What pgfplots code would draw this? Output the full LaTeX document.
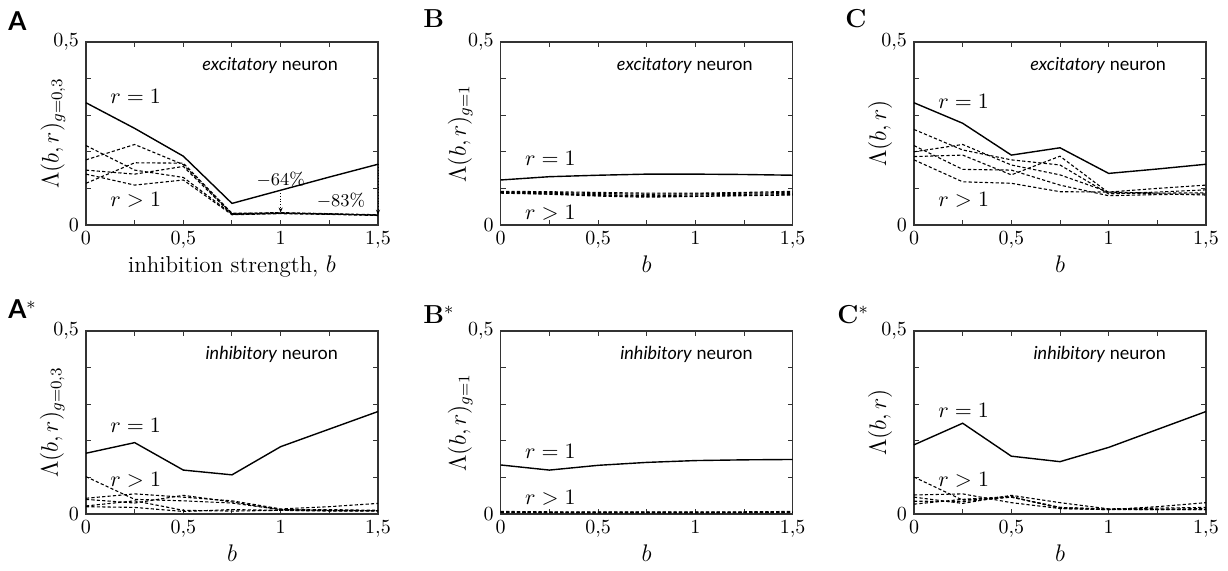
\documentclass[border=0pt]{standalone}
\usepackage{fontspec}
\usepackage{pgfplots}
\pgfplotsset{compat=1.18}
\usetikzlibrary{arrows.meta}
\newfontfamily\sansf{Lato}
\pgfplotsset{
  panel/.style={
    scale only axis, width=146pt, height=91.5pt,
    xmin=0, xmax=1.5, ymin=0, ymax=0.5,
    xtick={0,0.5,1,1.5}, minor xtick={0.25,0.75,1.25},
    ytick={0,0.5}, minor ytick={0.1,0.2,0.3,0.4},
    tick align=inside, tick pos=both,
    xticklabel pos=left, yticklabel pos=left,
    major tick length=2.5pt, minor tick length=2.5pt,
    /pgf/number format/use comma,
    axis line style={line width=0.6pt, black!80},
    tick style={line width=0.5pt, black!80},
    label style={font=\fontsize{11.5}{13}\selectfont},
    xlabel style={at={(axis description cs:0.5,-0.262)}, anchor=base},
    clip=false,
  },
  solidl/.style={black, line width=0.7pt},
  dashl/.style={black, line width=0.55pt, dash pattern=on 1.6pt off 1.1pt},
}
\newcommand{\rlab}[2]{%
  \node[font=\fontsize{10.5}{12}\selectfont] at (axis cs:0.255,#1) {$r=1$};%
  \node[font=\fontsize{10.5}{12}\selectfont] at (axis cs:0.255,#2) {$r>1$};}
\newcommand{\PL}[1]{\bfseries\fontsize{13}{15}\selectfont #1}
\begin{document}
\begin{tikzpicture}
\useasboundingbox (0pt,0pt) rectangle (614pt,285pt);
% panel letters
\node[anchor=base west, inner sep=0] at (4pt,270pt) {\sansf\PL{A}};
\node[anchor=base west, inner sep=0] at (211.5pt,271.5pt) {\PL{B}};
\node[anchor=base west, inner sep=0] at (422.5pt,271.5pt) {\PL{C}};
\node[anchor=base west, inner sep=0] at (4pt,126pt) {\sansf\PL{A$^{*}$}};
\node[anchor=base west, inner sep=0] at (211.5pt,123.5pt) {\PL{B$^{*}$}};
\node[anchor=base west, inner sep=0] at (418.5pt,123.5pt) {\PL{C$^{*}$}};

% ---------- A ----------
\begin{axis}[panel, at={(43pt,172.5pt)}, anchor=south west,
  xlabel={inhibition strength, $b$},
  ylabel={$\Lambda(b,r)_{g=0{,}3}$},
  ylabel style={at={(axis description cs:-0.113,0.5)}, anchor=center}]
\addplot[solidl] coordinates {(0,0.334)(0.25,0.264)(0.5,0.188)(0.75,0.059)(1,0.095)(1.25,0.131)(1.5,0.166)};
\addplot[dashl] coordinates {(0,0.217)(0.25,0.150)(0.5,0.130)(0.75,0.030)(1,0.032)(1.25,0.030)(1.5,0.027)};
\addplot[dashl] coordinates {(0,0.178)(0.25,0.220)(0.5,0.165)(0.75,0.031)(1,0.034)(1.25,0.031)(1.5,0.028)};
\addplot[dashl] coordinates {(0,0.114)(0.25,0.170)(0.5,0.169)(0.75,0.032)(1,0.033)(1.25,0.030)(1.5,0.027)};
\addplot[dashl] coordinates {(0,0.139)(0.25,0.109)(0.5,0.123)(0.75,0.028)(1,0.031)(1.25,0.029)(1.5,0.026)};
\addplot[dashl] coordinates {(0,0.150)(0.25,0.139)(0.5,0.160)(0.75,0.029)(1,0.032)(1.25,0.030)(1.5,0.027)};
\rlab{0.35}{0.068}
\node[anchor=base east, font=\sansf\small] at (axis cs:1.33,0.421) {\textit{excitatory} neuron};
\draw[densely dotted, line width=0.4pt, -{Stealth[length=2.5pt,width=2pt]}] (axis cs:1,0.095) -- (axis cs:1,0.034);
\draw[densely dotted, line width=0.4pt, -{Stealth[length=2.5pt,width=2pt]}] (axis cs:1.5,0.166) -- (axis cs:1.5,0.028);
\node[font=\small] at (axis cs:1.0,0.125) {$-64\%$};
\node[font=\small, anchor=east] at (axis cs:1.47,0.066) {$-83\%$};
\end{axis}

% ---------- B ----------
\begin{axis}[panel, at={(250.35pt,172.5pt)}, anchor=south west,
  xlabel={$b$},
  ylabel={$\Lambda(b,r)_{g=1}$},
  ylabel style={at={(axis description cs:-0.139,0.5)}, anchor=center}]
\addplot[solidl] coordinates {(0,0.123)(0.25,0.132)(0.5,0.136)(0.75,0.139)(1,0.139)(1.25,0.138)(1.5,0.136)};
\addplot[dashl] coordinates {(0,0.092)(0.25,0.091)(0.5,0.089)(0.75,0.087)(1,0.087)(1.25,0.089)(1.5,0.092)};
\addplot[dashl] coordinates {(0,0.090)(0.25,0.089)(0.5,0.086)(0.75,0.084)(1,0.085)(1.25,0.087)(1.5,0.089)};
\addplot[dashl] coordinates {(0,0.089)(0.25,0.087)(0.5,0.083)(0.75,0.080)(1,0.082)(1.25,0.084)(1.5,0.086)};
\addplot[dashl] coordinates {(0,0.088)(0.25,0.085)(0.5,0.081)(0.75,0.078)(1,0.079)(1.25,0.081)(1.5,0.083)};
\addplot[dashl] coordinates {(0,0.087)(0.25,0.084)(0.5,0.079)(0.75,0.076)(1,0.078)(1.25,0.080)(1.5,0.082)};
\rlab{0.183}{0.033}
\node[anchor=base east, font=\sansf\small] at (axis cs:1.33,0.421) {\textit{excitatory} neuron};
\end{axis}

% ---------- C ----------
\begin{axis}[panel, at={(457pt,172.5pt)}, anchor=south west,
  xlabel={$b$},
  ylabel={$\Lambda(b,r)$},
  ylabel style={at={(axis description cs:-0.116,0.5)}, anchor=center}]
\addplot[solidl] coordinates {(0,0.334)(0.25,0.278)(0.5,0.191)(0.75,0.211)(1,0.141)(1.25,0.153)(1.5,0.166)};
\addplot[dashl] coordinates {(0,0.261)(0.25,0.205)(0.5,0.178)(0.75,0.164)(1,0.085)(1.25,0.090)(1.5,0.096)};
\addplot[dashl] coordinates {(0,0.200)(0.25,0.220)(0.5,0.164)(0.75,0.137)(1,0.090)(1.25,0.100)(1.5,0.109)};
\addplot[dashl] coordinates {(0,0.187)(0.25,0.191)(0.5,0.137)(0.75,0.188)(1,0.088)(1.25,0.085)(1.5,0.082)};
\addplot[dashl] coordinates {(0,0.217)(0.25,0.152)(0.5,0.150)(0.75,0.109)(1,0.080)(1.25,0.083)(1.5,0.085)};
\addplot[dashl] coordinates {(0,0.178)(0.25,0.118)(0.5,0.114)(0.75,0.091)(1,0.090)(1.25,0.087)(1.5,0.088)};
\rlab{0.337}{0.068}
\node[anchor=base east, font=\sansf\small] at (axis cs:1.33,0.421) {\textit{excitatory} neuron};
\end{axis}

% ---------- A* ----------
\begin{axis}[panel, at={(43pt,28pt)}, anchor=south west,
  xlabel={$b$},
  ylabel={$\Lambda(b,r)_{g=0{,}3}$},
  ylabel style={at={(axis description cs:-0.116,0.5)}, anchor=center}]
\addplot[solidl] coordinates {(0,0.166)(0.25,0.195)(0.5,0.120)(0.75,0.107)(1,0.184)(1.25,0.232)(1.5,0.280)};
\addplot[dashl] coordinates {(0,0.102)(0.25,0.040)(0.5,0.036)(0.75,0.030)(1,0.012)(1.25,0.012)(1.5,0.010)};
\addplot[dashl] coordinates {(0,0.043)(0.25,0.055)(0.5,0.046)(0.75,0.036)(1,0.014)(1.25,0.020)(1.5,0.029)};
\addplot[dashl] coordinates {(0,0.040)(0.25,0.030)(0.5,0.051)(0.75,0.033)(1,0.012)(1.25,0.010)(1.5,0.009)};
\addplot[dashl] coordinates {(0,0.022)(0.25,0.036)(0.5,0.010)(0.75,0.008)(1,0.010)(1.25,0.008)(1.5,0.008)};
\addplot[dashl] coordinates {(0,0.020)(0.25,0.018)(0.5,0.007)(0.75,0.012)(1,0.010)(1.25,0.009)(1.5,0.009)};
\rlab{0.243}{0.093}
\node[anchor=base east, font=\sansf\small] at (axis cs:1.33,0.421) {\textit{inhibitory} neuron};
\end{axis}

% ---------- B* ----------
\begin{axis}[panel, at={(250.35pt,28pt)}, anchor=south west,
  xlabel={$b$},
  ylabel={$\Lambda(b,r)_{g=1}$},
  ylabel style={at={(axis description cs:-0.139,0.5)}, anchor=center}]
\addplot[solidl] coordinates {(0,0.134)(0.25,0.120)(0.5,0.133)(0.75,0.141)(1,0.146)(1.25,0.148)(1.5,0.149)};
\addplot[dashl] coordinates {(0,0.007)(0.25,0.006)(0.5,0.006)(0.75,0.006)(1,0.006)(1.25,0.006)(1.5,0.007)};
\addplot[dashl] coordinates {(0,0.006)(0.25,0.005)(0.5,0.005)(0.75,0.005)(1,0.005)(1.25,0.005)(1.5,0.006)};
\addplot[dashl] coordinates {(0,0.005)(0.25,0.004)(0.5,0.004)(0.75,0.004)(1,0.004)(1.25,0.004)(1.5,0.005)};
\addplot[dashl] coordinates {(0,0.004)(0.25,0.004)(0.5,0.003)(0.75,0.003)(1,0.003)(1.25,0.004)(1.5,0.004)};
\addplot[dashl] coordinates {(0,0.003)(0.25,0.003)(0.5,0.003)(0.75,0.003)(1,0.003)(1.25,0.003)(1.5,0.003)};
\rlab{0.170}{0.044}
\node[anchor=base east, font=\sansf\small] at (axis cs:1.33,0.421) {\textit{inhibitory} neuron};
\end{axis}

% ---------- C* ----------
\begin{axis}[panel, at={(457pt,28pt)}, anchor=south west,
  xlabel={$b$},
  ylabel={$\Lambda(b,r)$},
  ylabel style={at={(axis description cs:-0.116,0.5)}, anchor=center}]
\addplot[solidl] coordinates {(0,0.189)(0.25,0.248)(0.5,0.158)(0.75,0.143)(1,0.182)(1.25,0.231)(1.5,0.280)};
\addplot[dashl] coordinates {(0,0.101)(0.25,0.038)(0.5,0.046)(0.75,0.018)(1,0.013)(1.25,0.013)(1.5,0.015)};
\addplot[dashl] coordinates {(0,0.052)(0.25,0.055)(0.5,0.031)(0.75,0.015)(1,0.012)(1.25,0.020)(1.5,0.031)};
\addplot[dashl] coordinates {(0,0.046)(0.25,0.029)(0.5,0.051)(0.75,0.031)(1,0.014)(1.25,0.016)(1.5,0.018)};
\addplot[dashl] coordinates {(0,0.035)(0.25,0.034)(0.5,0.046)(0.75,0.018)(1,0.013)(1.25,0.012)(1.5,0.012)};
\addplot[dashl] coordinates {(0,0.027)(0.25,0.040)(0.5,0.048)(0.75,0.015)(1,0.012)(1.25,0.012)(1.5,0.012)};
\rlab{0.284}{0.093}
\node[anchor=base east, font=\sansf\small] at (axis cs:1.33,0.421) {\textit{inhibitory} neuron};
\end{axis}
\end{tikzpicture}
\end{document}
